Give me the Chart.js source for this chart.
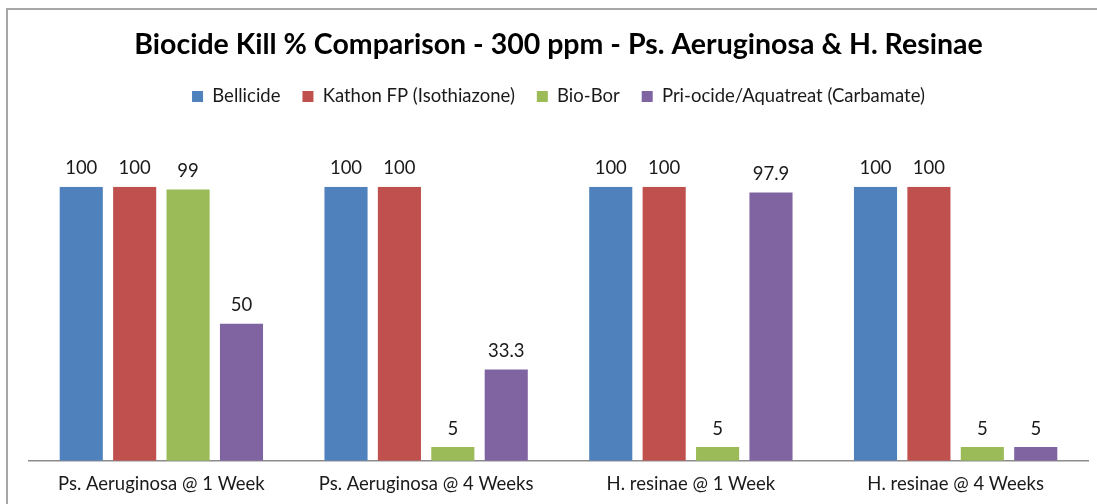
<!DOCTYPE html>
<html><head><meta charset="utf-8">
<script src="https://cdn.jsdelivr.net/npm/chart.js@4/dist/chart.umd.min.js"></script>
<style>
html,body{margin:0;padding:0;background:#fff;overflow:hidden}
#wrap{position:absolute;left:0;top:0;width:1097px;height:504px}
#frame{position:absolute;left:6px;top:8px;width:1200px;height:600px;border-top:2px solid #a6a6a6;border-left:2px solid #a6a6a6;box-sizing:border-box}
canvas{position:absolute;left:0;top:0}
</style></head><body>
<div id="wrap"><div id="frame"></div><canvas id="c" width="1097" height="504"></canvas></div>
<script>
const categories = ["Ps. Aeruginosa @ 1 Week","Ps. Aeruginosa @ 4 Weeks","H. resinae @ 1 Week","H. resinae @ 4 Weeks"];
const seriesNames = ["Bellicide","Kathon FP (Isothiazone)","Bio-Bor","Pri-ocide/Aquatreat (Carbamate)"];
const bellicide = [100,100,100,100];
const kathon = [100,100,100,100];
const bioBor = [99,5,5,5];
const priocide = [50,33.3,97.9,5];
const colors = ["#4F81BD","#C0504D","#9BBB59","#8064A2"];
const titleText = "Biocide Kill % Comparison - 300 ppm - Ps. Aeruginosa & H. Resinae";
const FONT = "Lato, 'Open Sans', sans-serif";
const FS = 18.5;

const labelPlugin = {
  id:'valLabels',
  afterDatasetsDraw(chart){
    const ctx = chart.ctx;
    ctx.save();
    ctx.font = FS + "px " + FONT;
    ctx.fillStyle = "#1a1a1a";
    ctx.textAlign = "center";
    ctx.textBaseline = "bottom";
    chart.data.datasets.forEach((ds,i)=>{
      chart.getDatasetMeta(i).data.forEach((bar,j)=>{
        ctx.fillText(String(ds.data[j]), bar.x, bar.y - 9);
      });
    });
    ctx.restore();
  }
};
const legendMargin = {
  id:'legendMargin',
  beforeInit(chart){
    const orig = chart.legend.fit;
    chart.legend.fit = function(){ orig.bind(chart.legend)(); this.height += 71; };
  }
};

new Chart(document.getElementById('c'), {
  type:'bar',
  data:{
    labels:categories,
    datasets:[bellicide,kathon,bioBor,priocide].map((d,i)=>({
      label:seriesNames[i], data:d, backgroundColor:colors[i],
      categoryPercentage:0.807, barPercentage:0.807
    }))
  },
  options:{
    responsive:false, animation:false,
    layout:{padding:{left:29,right:9,top:22,bottom:-3}},
    plugins:{
      title:{display:true,text:titleText,color:"#000",font:{family:FONT,size:28.5,weight:'bold'},padding:{top:6,bottom:3}},
      legend:{display:true,position:'top',labels:{boxWidth:11,boxHeight:11,color:"#1a1a1a",font:{family:FONT,size:FS},padding:22}},
      tooltip:{enabled:false}
    },
    scales:{
      x:{grid:{display:false,drawTicks:false},border:{display:true,color:"#8c8c8c",width:1.5},
         ticks:{color:"#1a1a1a",font:{family:FONT,size:FS},padding:12}},
      y:{display:false,min:0,max:100}
    }
  },
  plugins:[labelPlugin,legendMargin]
});
</script></body></html>
